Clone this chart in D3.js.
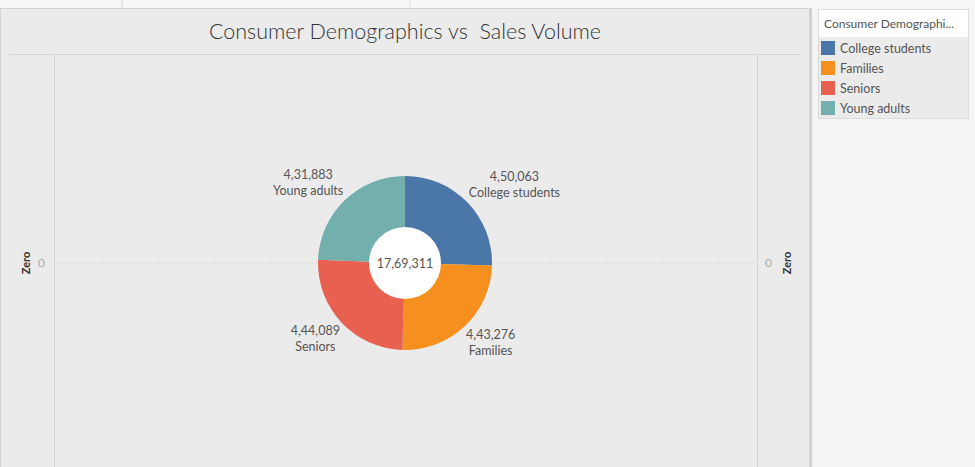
<!DOCTYPE html>
<html><head><meta charset="utf-8">
<script src="https://cdn.jsdelivr.net/npm/d3@7"></script>
<style>body{margin:0;background:#f4f4f4;font-family:Lato,"Open Sans",sans-serif;}</style>
</head><body>
<svg id="c" width="975" height="467"></svg>
<script>
const categories = ["College students","Families","Seniors","Young adults"];
const salesVolume = [450063, 443276, 444089, 431883];
const colors = ["#4a76a8","#f5901f","#e8604f","#72afad"];
const axisTicks = [0];
const axisLabel = "Zero";
const title = "Consumer Demographics vs  Sales Volume";
const legendTitle = "Consumer Demographi...";

function indian(n){
  const s = String(Math.round(n));
  if (s.length <= 3) return s;
  const last3 = s.slice(-3);
  let rest = s.slice(0,-3);
  const parts = [];
  while (rest.length > 2){ parts.unshift(rest.slice(-2)); rest = rest.slice(0,-2); }
  if (rest.length) parts.unshift(rest);
  return parts.join(",") + "," + last3;
}

const svg = d3.select("#c");
// top strip
svg.append("rect").attr("x",0).attr("y",0).attr("width",975).attr("height",8).attr("fill","#f7f7f7");
svg.append("line").attr("x1",122).attr("x2",122).attr("y1",0).attr("y2",8).attr("stroke","#d8d8d8");
svg.append("line").attr("x1",410).attr("x2",410).attr("y1",0).attr("y2",8).attr("stroke","#e2e2e2");
// main panel
svg.append("rect").attr("x",0.5).attr("y",8.5).attr("width",809).attr("height",470).attr("fill","#ebebeb").attr("stroke","#d2d2d2");
svg.append("line").attr("x1",811).attr("x2",811).attr("y1",8).attr("y2",467).attr("stroke","#cfcfcf").attr("stroke-width",2);
svg.append("text").attr("x",405).attr("y",39).attr("text-anchor","middle").attr("font-size",21.5).attr("font-weight",300)
  .attr("fill","#333").style("white-space","pre").text(title);
svg.append("line").attr("x1",9).attr("x2",801).attr("y1",54.5).attr("y2",54.5).attr("stroke","#d4d4d4");

// plot area
const plotL = 54, plotR = 757, plotT = 55, plotB = 471;
svg.append("line").attr("x1",plotL+0.5).attr("x2",plotL+0.5).attr("y1",plotT).attr("y2",467).attr("stroke","#d4d4d4");
svg.append("line").attr("x1",plotR+0.5).attr("x2",plotR+0.5).attr("y1",plotT).attr("y2",467).attr("stroke","#d4d4d4");

const y = d3.scaleLinear().domain([-1,1]).range([plotB, plotT]);
const fmt = d3.format("d");
const axL = svg.append("g").attr("transform",`translate(${plotL},0)`).call(d3.axisLeft(y).tickValues(axisTicks).tickFormat(fmt).tickSize(0).tickPadding(9));
const axR = svg.append("g").attr("transform",`translate(${plotR},0)`).call(d3.axisRight(y).tickValues(axisTicks).tickFormat(fmt).tickSize(0).tickPadding(8));
[axL,axR].forEach(a=>{a.select(".domain").remove(); a.selectAll("text").attr("font-size",12).attr("fill","#aaa").attr("font-family","Lato,sans-serif");});
svg.append("line").attr("x1",plotL+2).attr("x2",plotR-2).attr("y1",y(0)).attr("y2",y(0)).attr("stroke","#d0d0d0").attr("stroke-dasharray","1.5,2");
svg.append("text").attr("transform",`translate(30,${y(0)}) rotate(-90)`).attr("text-anchor","middle").attr("font-size",11).attr("font-weight",700).attr("fill","#333").text(axisLabel);
svg.append("text").attr("transform",`translate(791,${y(0)}) rotate(-90)`).attr("text-anchor","middle").attr("font-size",11).attr("font-weight",700).attr("fill","#333").text(axisLabel);

// donut
const cx = 405, cy = y(0);
const data = categories.map((c,i)=>({c, v:salesVolume[i], col:colors[i]}));
const pie = d3.pie().value(d=>d.v).sort(null);
const arcs = pie(data);
const outerR = 87, innerR = 36;
const g = svg.append("g").attr("transform",`translate(${cx},${cy})`);
g.selectAll("path.s").data(arcs).join("path").attr("class","s")
  .attr("d", d3.arc().innerRadius(0).outerRadius(outerR)).attr("fill",d=>d.data.col);
g.append("circle").attr("r",innerR).attr("fill","#fff");
g.append("text").attr("y",5).attr("text-anchor","middle").attr("font-size",12.5).attr("fill","#555").text(indian(d3.sum(salesVolume)));

const labR = 89;
arcs.forEach(a=>{
  const ang = (a.startAngle + a.endAngle)/2;
  const ax = labR*Math.sin(ang), ay = -labR*Math.cos(ang);
  const t = g.append("text").attr("font-size",12.5).attr("fill","#555").attr("text-anchor","middle");
  const t1 = t.append("tspan").text(indian(a.data.v));
  const t2 = t.append("tspan").text(a.data.c);
  const w = Math.max(t1.node().getComputedTextLength(), t2.node().getComputedTextLength());
  const bx = ax > 0 ? ax + w/2 : ax - w/2;
  const lineH = 16;
  const topY = ay < 0 ? ay - 2*lineH : ay - 1;
  t1.attr("x",bx).attr("y",topY + 12);
  t2.attr("x",bx).attr("y",topY + 12 + lineH);
});

// legend
const lg = svg.append("g");
lg.append("rect").attr("x",818.5).attr("y",9.5).attr("width",150).attr("height",109).attr("fill","#ebebeb").attr("stroke","#dcdcdc");
lg.append("rect").attr("x",819).attr("y",10).attr("width",149).attr("height",27).attr("fill","#fff");
lg.append("text").attr("x",824).attr("y",28).attr("font-size",12).attr("fill","#555").text(legendTitle);
const items = lg.selectAll("g.it").data(data).join("g").attr("class","it")
  .attr("transform",(d,i)=>`translate(821,${41+i*20})`);
items.append("rect").attr("width",14).attr("height",14).attr("fill",d=>d.col);
items.append("text").attr("x",19).attr("y",11.5).attr("font-size",12.5).attr("fill","#555").text(d=>d.c);
</script>
</body></html>
